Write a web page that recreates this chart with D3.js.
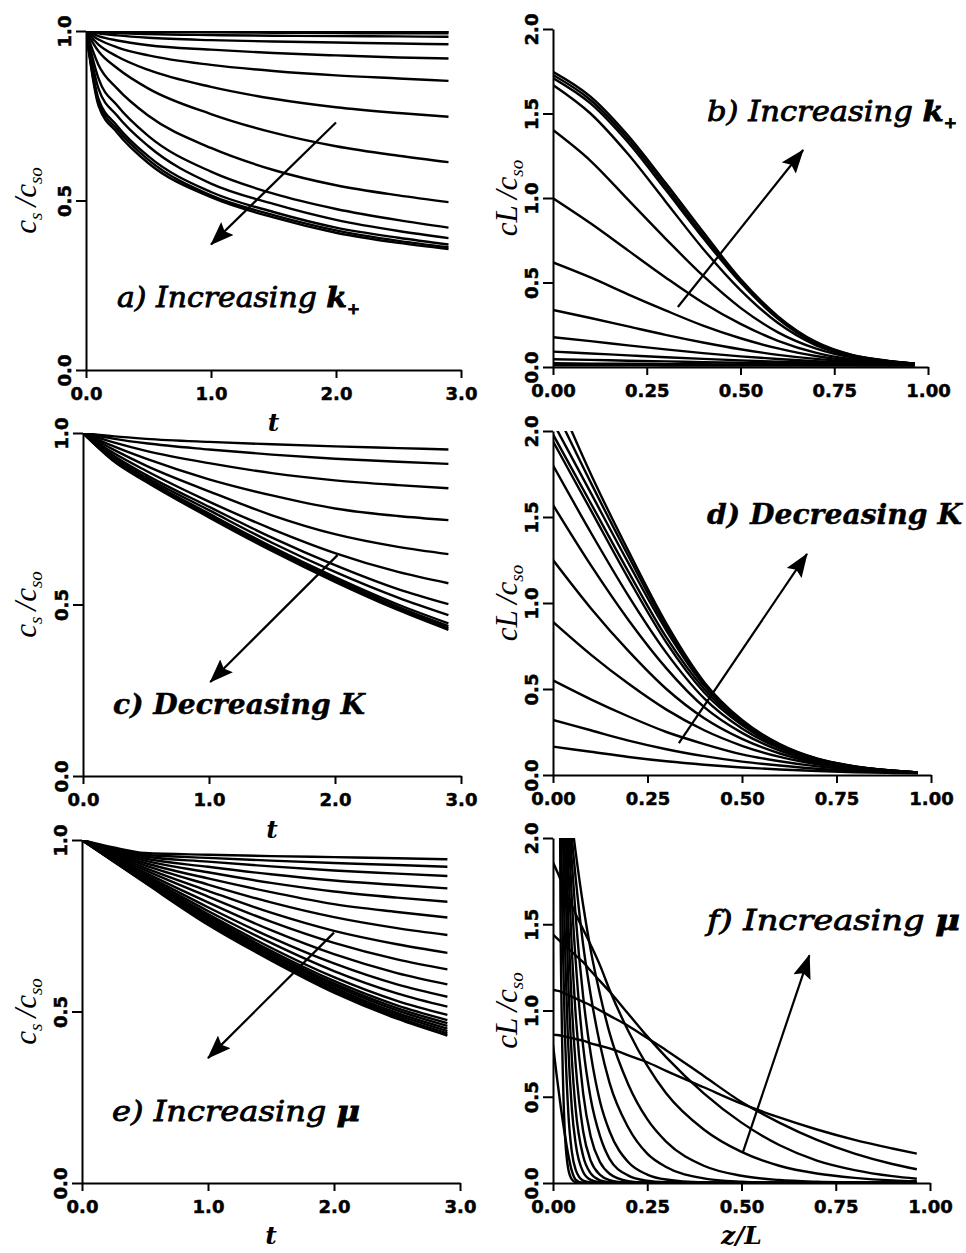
<!DOCTYPE html>
<html>
<head>
<meta charset="utf-8">
<script src="https://cdn.jsdelivr.net/npm/d3@7"></script>
<style>
  body { margin: 0; background: #fff; }
  .tick text { font-family: "DejaVu Sans"; font-weight: bold; font-size: 18px; fill: #000; stroke: #000; stroke-width: 0.5px; }
  .tick line, .domain { stroke: #000; stroke-width: 2px; }
</style>
</head>
<body>
<svg id="fig" width="966" height="1253"></svg>
<script>
// ---- data ----
var tGridA = [0, 0.1, 0.25, 0.5, 1.0, 1.5, 2.0, 2.5, 2.9]
var curvesA = [
  [1, 1, 1, 1, 1, 1, 1, 1, 1],
  [1, 0.9995, 0.999, 0.9985, 0.998, 0.9975, 0.997, 0.997, 0.997],
  [1, 0.999, 0.998, 0.997, 0.996, 0.995, 0.994, 0.993, 0.993],
  [1, 0.997, 0.994, 0.991, 0.988, 0.986, 0.985, 0.984, 0.983],
  [1, 0.993, 0.987, 0.980, 0.973, 0.969, 0.966, 0.963, 0.961],
  [1, 0.985, 0.972, 0.958, 0.945, 0.935, 0.928, 0.922, 0.919],
  [1, 0.975, 0.952, 0.928, 0.900, 0.882, 0.869, 0.860, 0.853],
  [1, 0.960, 0.925, 0.885, 0.835, 0.800, 0.775, 0.758, 0.747],
  [1, 0.940, 0.890, 0.830, 0.755, 0.700, 0.660, 0.632, 0.613],
  [1, 0.900, 0.830, 0.750, 0.655, 0.590, 0.545, 0.515, 0.495],
  [1, 0.860, 0.780, 0.690, 0.585, 0.520, 0.475, 0.442, 0.420],
  [1, 0.830, 0.750, 0.660, 0.550, 0.490, 0.443, 0.410, 0.389],
  [1, 0.800, 0.720, 0.630, 0.525, 0.466, 0.420, 0.390, 0.370],
  [1, 0.790, 0.710, 0.620, 0.515, 0.457, 0.412, 0.381, 0.362],
  [1, 0.780, 0.700, 0.610, 0.510, 0.450, 0.405, 0.375, 0.357]
]

var zGridB = [0, 0.1, 0.2, 0.3, 0.4, 0.5, 0.6, 0.7, 0.8, 0.9, 0.965]
var curvesB = [
  [1.747, 1.60, 1.37, 1.09, 0.80, 0.52, 0.30, 0.15, 0.07, 0.035, 0.02],
  [1.728, 1.58, 1.35, 1.07, 0.78, 0.51, 0.29, 0.145, 0.068, 0.034, 0.02],
  [1.710, 1.56, 1.33, 1.05, 0.765, 0.50, 0.285, 0.14, 0.066, 0.033, 0.02],
  [1.669, 1.50, 1.26, 0.98, 0.70, 0.455, 0.26, 0.13, 0.062, 0.032, 0.02],
  [1.402, 1.22, 0.99, 0.76, 0.54, 0.35, 0.205, 0.11, 0.055, 0.03, 0.02],
  [0.998, 0.85, 0.69, 0.53, 0.38, 0.255, 0.155, 0.085, 0.045, 0.027, 0.02],
  [0.619, 0.53, 0.43, 0.335, 0.245, 0.17, 0.11, 0.065, 0.038, 0.025, 0.02],
  [0.337, 0.29, 0.24, 0.19, 0.145, 0.105, 0.072, 0.048, 0.032, 0.023, 0.018],
  [0.176, 0.153, 0.128, 0.104, 0.082, 0.063, 0.047, 0.034, 0.025, 0.019, 0.016],
  [0.091, 0.08, 0.069, 0.058, 0.048, 0.039, 0.031, 0.025, 0.02, 0.016, 0.014],
  [0.046, 0.042, 0.037, 0.033, 0.029, 0.025, 0.021, 0.018, 0.015, 0.013, 0.012],
  [0.022, 0.02, 0.019, 0.017, 0.016, 0.014, 0.013, 0.012, 0.011, 0.01, 0.01],
  [0.010, 0.01, 0.01, 0.009, 0.009, 0.009, 0.008, 0.008, 0.008, 0.008, 0.008]
]

var tGridC = [0, 0.25, 0.5, 1.0, 1.5, 2.0, 2.5, 2.9]
var curvesC = [
  [1, 0.990, 0.983, 0.974, 0.967, 0.961, 0.956, 0.952],
  [1, 0.983, 0.970, 0.952, 0.937, 0.925, 0.916, 0.910],
  [1, 0.972, 0.948, 0.912, 0.883, 0.862, 0.848, 0.839],
  [1, 0.960, 0.925, 0.865, 0.818, 0.780, 0.758, 0.746],
  [1, 0.950, 0.905, 0.830, 0.760, 0.705, 0.668, 0.647],
  [1, 0.940, 0.890, 0.800, 0.720, 0.650, 0.595, 0.562],
  [1, 0.932, 0.878, 0.785, 0.695, 0.615, 0.545, 0.501],
  [1, 0.927, 0.871, 0.775, 0.680, 0.595, 0.520, 0.469],
  [1, 0.922, 0.865, 0.765, 0.668, 0.580, 0.500, 0.445],
  [1, 0.920, 0.862, 0.760, 0.663, 0.574, 0.493, 0.437],
  [1, 0.918, 0.860, 0.757, 0.659, 0.570, 0.488, 0.431],
  [1, 0.916, 0.858, 0.754, 0.656, 0.566, 0.484, 0.426]
]

var zGridD = [0, 0.1, 0.2, 0.3, 0.4, 0.5, 0.6, 0.7, 0.8, 0.9, 0.965]
var curvesD = [
  [2.25, 1.75, 1.30, 0.88, 0.54, 0.32, 0.18, 0.095, 0.05, 0.025, 0.015],
  [2.15, 1.70, 1.27, 0.86, 0.53, 0.315, 0.175, 0.093, 0.049, 0.025, 0.015],
  [2.05, 1.64, 1.23, 0.84, 0.52, 0.31, 0.172, 0.091, 0.048, 0.025, 0.015],
  [1.98, 1.58, 1.18, 0.80, 0.50, 0.30, 0.167, 0.089, 0.047, 0.024, 0.015],
  [1.94, 1.54, 1.14, 0.77, 0.48, 0.29, 0.162, 0.087, 0.046, 0.024, 0.015],
  [1.80, 1.41, 1.04, 0.71, 0.445, 0.27, 0.155, 0.084, 0.045, 0.023, 0.015],
  [1.57, 1.22, 0.90, 0.62, 0.395, 0.245, 0.142, 0.078, 0.042, 0.022, 0.014],
  [1.25, 0.97, 0.72, 0.50, 0.33, 0.21, 0.125, 0.07, 0.039, 0.021, 0.014],
  [0.89, 0.70, 0.53, 0.38, 0.26, 0.17, 0.105, 0.062, 0.035, 0.02, 0.013],
  [0.55, 0.44, 0.34, 0.25, 0.18, 0.12, 0.08, 0.05, 0.03, 0.018, 0.012],
  [0.32, 0.26, 0.20, 0.15, 0.11, 0.078, 0.055, 0.036, 0.023, 0.015, 0.011],
  [0.165, 0.135, 0.105, 0.08, 0.06, 0.044, 0.032, 0.023, 0.016, 0.012, 0.01]
]

var tGridE = [0, 0.25, 0.5, 1.0, 1.5, 2.0, 2.5, 2.9]
var curvesE = [
  [1, 0.978, 0.962, 0.957, 0.953, 0.950, 0.947, 0.944],
  [1, 0.975, 0.957, 0.948, 0.940, 0.933, 0.927, 0.922],
  [1, 0.972, 0.952, 0.937, 0.923, 0.911, 0.902, 0.895],
  [1, 0.969, 0.946, 0.922, 0.900, 0.882, 0.869, 0.859],
  [1, 0.966, 0.940, 0.906, 0.875, 0.850, 0.832, 0.820],
  [1, 0.963, 0.933, 0.888, 0.848, 0.813, 0.790, 0.774],
  [1, 0.960, 0.926, 0.870, 0.818, 0.775, 0.743, 0.723],
  [1, 0.957, 0.919, 0.852, 0.788, 0.735, 0.696, 0.671],
  [1, 0.954, 0.912, 0.835, 0.762, 0.700, 0.652, 0.623],
  [1, 0.951, 0.905, 0.818, 0.737, 0.667, 0.612, 0.579],
  [1, 0.948, 0.899, 0.804, 0.716, 0.640, 0.579, 0.543],
  [1, 0.946, 0.894, 0.793, 0.700, 0.618, 0.553, 0.514],
  [1, 0.944, 0.890, 0.784, 0.686, 0.600, 0.531, 0.490],
  [1, 0.943, 0.887, 0.778, 0.677, 0.589, 0.518, 0.475],
  [1, 0.942, 0.885, 0.773, 0.671, 0.582, 0.510, 0.466],
  [1, 0.941, 0.883, 0.769, 0.666, 0.576, 0.503, 0.458],
  [1, 0.940, 0.881, 0.765, 0.661, 0.570, 0.496, 0.450],
  [1, 0.939, 0.879, 0.761, 0.657, 0.565, 0.490, 0.443],
  [1, 0.938, 0.877, 0.757, 0.653, 0.560, 0.484, 0.436],
  [1, 0.937, 0.875, 0.753, 0.649, 0.555, 0.479, 0.430]
]

var zGridF = [0, 0.01, 0.02, 0.03, 0.04, 0.05, 0.06, 0.08, 0.1, 0.125, 0.15, 0.2, 0.25, 0.3, 0.4, 0.5, 0.6, 0.7, 0.8, 0.9, 0.965]
var curvesF = [
  [0.80, 0.62, 0.45, 0.30, 0.17, 0.07, 0.02, 0, 0, 0, 0, 0, 0, 0, 0, 0, 0, 0, 0, 0, 0],
  [26, 6.3, 1.5, 0.36, 0.087, 0.021, 0.005, 0, 0, 0, 0, 0, 0, 0, 0, 0, 0, 0, 0, 0, 0],
  [13.1, 5.6, 2.37, 1.01, 0.43, 0.18, 0.078, 0.014, 0.003, 0, 0, 0, 0, 0, 0, 0, 0, 0, 0, 0, 0],
  [10.5, 5.5, 2.9, 1.56, 0.82, 0.43, 0.23, 0.064, 0.018, 0.004, 0, 0, 0, 0, 0, 0, 0, 0, 0, 0, 0],
  [9.2, 5.5, 3.3, 2.0, 1.2, 0.72, 0.43, 0.156, 0.056, 0.016, 0.005, 0, 0, 0, 0, 0, 0, 0, 0, 0, 0],
  [8.1, 5.4, 3.6, 2.35, 1.56, 1.03, 0.69, 0.30, 0.13, 0.047, 0.017, 0.002, 0, 0, 0, 0, 0, 0, 0, 0, 0],
  [6.8, 4.9, 3.6, 2.6, 1.87, 1.35, 0.98, 0.52, 0.27, 0.12, 0.054, 0.011, 0.002, 0, 0, 0, 0, 0, 0, 0, 0],
  [5.6, 4.4, 3.4, 2.7, 2.1, 1.64, 1.29, 0.79, 0.49, 0.27, 0.14, 0.043, 0.013, 0.004, 0, 0, 0, 0, 0, 0, 0],
  [4.6, 3.8, 3.2, 2.67, 2.23, 1.86, 1.55, 1.08, 0.75, 0.47, 0.30, 0.12, 0.049, 0.02, 0.003, 0, 0, 0, 0, 0, 0],
  [3.7, 3.26, 2.9, 2.56, 2.26, 2.0, 1.77, 1.38, 1.09, 0.80, 0.58, 0.32, 0.17, 0.093, 0.027, 0.008, 0.002, 0, 0, 0, 0],
  [3.2, 2.95, 2.7, 2.49, 2.28, 2.09, 1.92, 1.61, 1.35, 1.09, 0.87, 0.57, 0.37, 0.24, 0.10, 0.042, 0.017, 0.007, 0.003, 0.001, 0],
  [1.86, 1.81, 1.76, 1.71, 1.66, 1.61, 1.56, 1.47, 1.38, 1.26, 1.12, 0.88, 0.68, 0.52, 0.31, 0.18, 0.10, 0.055, 0.03, 0.015, 0.01],
  [1.44, 1.42, 1.40, 1.38, 1.36, 1.34, 1.32, 1.28, 1.23, 1.17, 1.11, 0.98, 0.85, 0.73, 0.52, 0.35, 0.22, 0.13, 0.075, 0.04, 0.025],
  [1.12, 1.115, 1.11, 1.10, 1.09, 1.08, 1.07, 1.05, 1.03, 1.0, 0.97, 0.91, 0.84, 0.77, 0.62, 0.47, 0.35, 0.25, 0.17, 0.11, 0.08],
  [0.86, 0.858, 0.855, 0.85, 0.845, 0.84, 0.835, 0.825, 0.81, 0.795, 0.78, 0.74, 0.70, 0.65, 0.555, 0.46, 0.38, 0.31, 0.25, 0.20, 0.17]
]

// tick values and labels
var tTicks = [0, 1, 2, 3]
var zTicks = [0, 0.25, 0.5, 0.75, 1]
var csTicks = [0, 0.5, 1]
var cLTicks = [0, 0.5, 1, 1.5, 2]

// arrows in data units: [fromX, fromY, toX, toY]
var arrowA = [2.0, 0.73, 1.0, 0.37]
var arrowB = [0.333, 0.355, 0.667, 1.284]
var arrowC = [2.02, 0.644, 1.01, 0.274]
var arrowD = [0.333, 0.186, 0.672, 1.285]
var arrowE = [2.0, 0.73, 1.0, 0.364]
var arrowF = [0.504, 0.18, 0.68, 1.32]

var svg = d3.select('#fig')

// arrow head
svg.append('defs').append('marker')
  .attr('id', 'head')
  .attr('markerUnits', 'userSpaceOnUse')
  .attr('viewBox', '0 0 24 18')
  .attr('markerWidth', 24)
  .attr('markerHeight', 18)
  .attr('refX', 23)
  .attr('refY', 9)
  .attr('orient', 'auto')
  .append('path')
  .attr('d', 'M0,0 L24,9 L0,18 L4,9 Z')
  .attr('fill', '#000')

var panelCount = 0

function drawPanel(p) {
  panelCount++
  var x = d3.scaleLinear().domain(p.xDomain).range(p.xRange)
  var y = d3.scaleLinear().domain(p.yDomain).range(p.yRange)
  var g = svg.append('g')

  var clipId = 'clip' + panelCount
  g.append('clipPath').attr('id', clipId)
    .append('rect')
    .attr('x', p.xRange[0])
    .attr('y', p.yRange[1])
    .attr('width', p.xRange[1] - p.xRange[0])
    .attr('height', p.yRange[0] - p.yRange[1])

  var line = d3.line()
    .x(function(d) { return x(d[0]) })
    .y(function(d) { return y(d[1]) })
    .curve(d3.curveMonotoneX)

  g.append('g').attr('clip-path', 'url(#' + clipId + ')')
    .selectAll('path')
    .data(p.curves)
    .enter()
    .append('path')
    .attr('d', function(vals) {
      return line(vals.map(function(v, i) { return [p.grid[i], v] }))
    })
    .attr('fill', 'none')
    .attr('stroke', '#000')
    .attr('stroke-width', 2.4)

  // axes
  var xAxis = d3.axisBottom(x)
    .tickValues(p.xTicks)
    .tickFormat(d3.format(p.xFmt))
    .tickSize(8)
    .tickPadding(9)
    .tickSizeOuter(0)
  g.append('g')
    .attr('transform', 'translate(0,' + p.yRange[0] + ')')
    .call(xAxis)

  var yAxis = d3.axisLeft(y)
    .tickValues(p.yTicks)
    .tickFormat(d3.format('.1f'))
    .tickSize(10)
    .tickSizeOuter(0)
  g.append('g')
    .attr('transform', 'translate(' + p.xRange[0] + ',0)')
    .call(yAxis)
    .selectAll('text')
    .attr('transform', 'rotate(-90)')
    .attr('x', 0)
    .attr('y', -15)
    .attr('dy', 0)
    .style('text-anchor', 'middle')

  // arrow
  var a = p.arrow
  g.append('line')
    .attr('x1', x(a[0])).attr('y1', y(a[1]))
    .attr('x2', x(a[2])).attr('y2', y(a[3]))
    .attr('stroke', '#000')
    .attr('stroke-width', 2.2)
    .attr('marker-end', 'url(#head)')

  // panel annotation
  var t = g.append('text')
    .attr('x', p.note.x)
    .attr('y', p.note.y)
    .attr('textLength', p.note.width)
    .attr('lengthAdjust', 'spacingAndGlyphs')
    .style('font-family', '"DejaVu Serif"')
    .style('font-style', 'italic')
    .style('font-weight', p.note.bold ? 'bold' : 'normal')
    .style('font-size', '27px')
    .style('stroke', '#000')
    .style('stroke-width', p.note.bold ? 0.4 : 0.8)
  t.append('tspan').text(p.note.text)
  t.append('tspan').text(p.note.sym).style('font-weight', 'bold')
  if (p.note.sub) {
    t.append('tspan').text(p.note.sub)
      .attr('dy', 7).style('font-size', '14px').style('font-style', 'normal').style('font-weight', 'bold')
  }

  // y axis label
  var cy = (p.yRange[0] + p.yRange[1]) / 2
  var yl = g.append('text')
    .attr('transform', 'translate(' + p.yLabelX + ',' + cy + ') rotate(-90)')
    .style('font-family', '"Liberation Serif"')
    .style('font-style', 'italic')
    .style('font-size', '31px')
    .style('text-anchor', 'middle')
  yl.append('tspan').text(p.yLabel[0])
  if (p.yLabel[1]) yl.append('tspan').text(p.yLabel[1]).attr('dy', 6).style('font-size', '19px')
  yl.append('tspan').text('\u2009/').attr('dy', p.yLabel[1] ? -6 : 0)
  yl.append('tspan').text('c')
  yl.append('tspan').text('so').attr('dy', 6).style('font-size', '19px')

  // x axis label
  if (p.xLabel) {
    g.append('text')
      .attr('x', (p.xRange[0] + p.xRange[1]) / 2)
      .attr('y', p.xLabelY)
      .style('font-family', '"DejaVu Serif"')
      .style('font-style', 'italic')
      .style('font-weight', 'bold')
      .style('font-size', '25px')
      .style('text-anchor', 'middle')
      .text(p.xLabel)
  }
}

var leftX = { xDomain: [0, 3], xTicks: tTicks, xFmt: '.1f', yDomain: [0, 1], yTicks: csTicks,
  yLabel: ['c', 's'], yLabelX: 36, xLabel: 't' }
var rightX = { xDomain: [0, 1], xTicks: zTicks, xFmt: '.2f', yDomain: [0, 2], yTicks: cLTicks,
  yLabel: ['cL', ''], yLabelX: 517 }

drawPanel(Object.assign({}, leftX, { xRange: [86, 461], yRange: [370, 31], grid: tGridA, curves: curvesA,
  arrow: arrowA, xLabelY: 431,
  note: { x: 117, y: 307, text: 'a) Increasing ', sym: 'k', sub: '+', width: 243 } }))
drawPanel(Object.assign({}, rightX, { xRange: [553, 928], yRange: [367, 29], grid: zGridB, curves: curvesB,
  arrow: arrowB,
  note: { x: 707, y: 121, text: 'b) Increasing ', sym: 'k', sub: '+', width: 250 } }))
drawPanel(Object.assign({}, leftX, { xRange: [83, 461], yRange: [776, 433], grid: tGridC, curves: curvesC,
  arrow: arrowC, xLabelY: 838,
  note: { x: 113, y: 714, text: 'c) Decreasing ', sym: 'K', bold: true, width: 252 } }))
drawPanel(Object.assign({}, rightX, { xRange: [553, 931], yRange: [775, 431], grid: zGridD, curves: curvesD,
  arrow: arrowD,
  note: { x: 707, y: 524, text: 'd) Decreasing ', sym: 'K', bold: true, width: 255 } }))
drawPanel(Object.assign({}, leftX, { xRange: [82, 460], yRange: [1183, 840], grid: tGridE, curves: curvesE,
  arrow: arrowE, xLabelY: 1244,
  note: { x: 112, y: 1121, text: 'e) Increasing ', sym: '\u03bc', width: 248 } }))
drawPanel(Object.assign({}, rightX, { xRange: [553, 930], yRange: [1183, 838], grid: zGridF, curves: curvesF,
  arrow: arrowF, xLabel: 'z/L', xLabelY: 1244,
  note: { x: 707, y: 930, text: 'f) Increasing ', sym: '\u03bc', width: 253 } }))
</script>
</body>
</html>
